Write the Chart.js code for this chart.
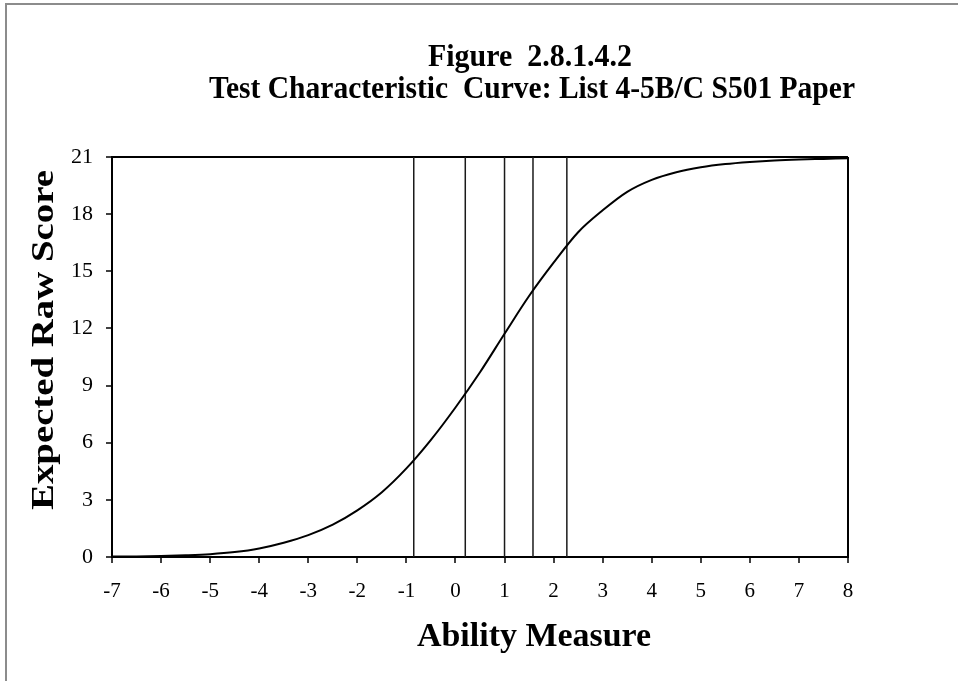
<!DOCTYPE html>
<html>
<head>
<meta charset="utf-8">
<script src="https://cdn.jsdelivr.net/npm/chart.js@4.4.1/dist/chart.umd.min.js"></script>
<style>
  html, body { margin: 0; padding: 0; background: #fff; }
  canvas { display: block; }
</style>
</head>
<body>
<canvas id="tccChart" width="958" height="681"></canvas>
<script>
// values
const abilities = [-7, -6.5, -6, -5.5, -5, -4.5, -4, -3.5, -3, -2.5, -2, -1.5, -1, -0.5, 0, 0.5,
                   1, 1.5, 2, 2.5, 3, 3.5, 4, 4.5, 5, 5.5, 6, 6.5, 7, 7.5, 8];
const expectedScores = [0.02, 0.03, 0.05, 0.09, 0.15, 0.26, 0.45, 0.75, 1.15, 1.7, 2.45, 3.4, 4.65, 6.15, 7.85, 9.7,
                        11.72, 13.7, 15.45, 17.05, 18.2, 19.17, 19.8, 20.2, 20.46, 20.63, 20.74, 20.82, 20.87, 20.9, 20.93];
const cutPoints = [-0.85, 0.2, 1.0, 1.58, 2.27];

const titleLines = ['Figure  2.8.1.4.2', 'Test Characteristic  Curve: List 4-5B/C S501 Paper'];
const xTitle = 'Ability Measure';
const yTitle = 'Expected Raw Score';

const xMin = -7, xMax = 8, xStep = 1;
const yMin = 0, yMax = 21, yStep = 3;

const serif = '"Liberation Serif", "Times New Roman", serif';
const ctxEl = document.getElementById('tccChart');

// draw a text squeezed/stretched to a given width (the original uses a narrow Times)
function fitText(ctx, text, x, y, size, width, rot) {
    ctx.save();
    ctx.translate(x, y);
    ctx.rotate(rot || 0);
    ctx.font = 'bold ' + size + 'px ' + serif;
    const w = ctx.measureText(text).width;
    ctx.scale(width / w, 1);
    ctx.fillStyle = '#000';
    ctx.textAlign = 'center';
    ctx.textBaseline = 'alphabetic';
    ctx.fillText(text, 0, 0);
    ctx.restore();
}

const pagePlugin = {
    id: 'pagePlugin',
    beforeDraw(chart) {
        const c = chart.ctx;
        c.save();
        c.fillStyle = '#fff';
        c.fillRect(0, 0, chart.width, chart.height);
        // grey frame of the figure
        c.strokeStyle = '#8c8c8c';
        c.lineWidth = 2;
        c.beginPath();
        c.moveTo(6, chart.height);
        c.lineTo(6, 4);
        c.lineTo(chart.width, 4);
        c.stroke();
        c.restore();
    },
    afterDraw(chart) {
        const c = chart.ctx;
        fitText(c, titleLines[0], 530, 66, 32, 204);
        fitText(c, titleLines[1], 532, 98, 32, 646);
        fitText(c, xTitle, 534, 646, 34, 234);
        fitText(c, yTitle, 53, 340, 32, 340, -Math.PI / 2);
    }
};

const curveData = abilities.map((a, i) => ({ x: a, y: expectedScores[i] }));

const cutSets = cutPoints.map(c => ({
    data: [{ x: c, y: yMin }, { x: c, y: yMax }],
    showLine: true,
    borderColor: '#1a1a1a',
    borderWidth: 1.5,
    pointRadius: 0
}));

const tccChart = new Chart(ctxEl, {
    type: 'scatter',
    data: {
        datasets: [{
            label: 'Expected Raw Score',
            data: curveData,
            showLine: true,
            borderColor: '#000',
            borderWidth: 2,
            pointRadius: 0,
            cubicInterpolationMode: 'monotone'
        }].concat(cutSets)
    },
    plugins: [pagePlugin],
    options: {
        animation: false,
        responsive: false,
        events: [],
        layout: { padding: { top: 157, right: 110, left: 0, bottom: 0 } },
        plugins: {
            legend: { display: false },
            tooltip: { enabled: false },
            title: { display: false }
        },
        scales: {
            x: {
                type: 'linear',
                min: xMin,
                max: xMax,
                afterFit: s => { s.height = 124; },
                ticks: {
                    stepSize: xStep,
                    color: '#000',
                    padding: 16,
                    font: { family: serif, size: 21 }
                },
                grid: {
                    color: c => (c.tick && c.tick.value === xMax) ? '#000' : 'rgba(0,0,0,0)',
                    lineWidth: 2,
                    tickColor: '#000',
                    tickWidth: 1.5,
                    tickLength: 6
                },
                border: { color: '#000', width: 2 }
            },
            y: {
                min: yMin,
                max: yMax,
                afterFit: s => { s.width = 112; },
                ticks: {
                    stepSize: yStep,
                    color: '#000',
                    padding: 13,
                    font: { family: serif, size: 22 }
                },
                grid: {
                    color: c => (c.tick && c.tick.value === yMax) ? '#000' : 'rgba(0,0,0,0)',
                    lineWidth: 2,
                    tickColor: '#000',
                    tickWidth: 1.5,
                    tickLength: 6
                },
                border: { color: '#000', width: 2 }
            }
        }
    }
});
</script>
</body>
</html>
